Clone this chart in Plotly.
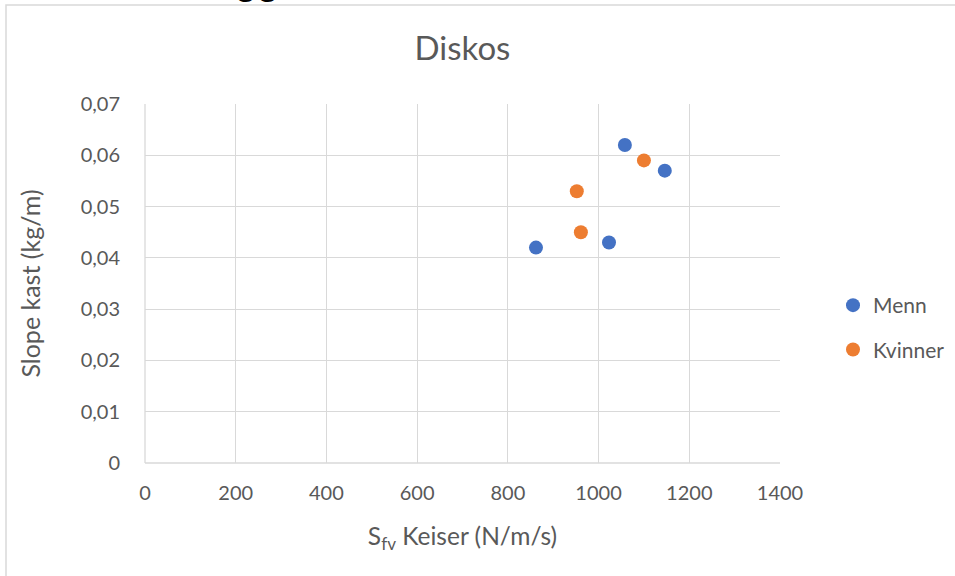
import plotly.graph_objects as go

# Data
menn_x = [862, 1058, 1146, 1023]
menn_y = [0.042, 0.062, 0.057, 0.043]
kvinner_x = [1100, 952, 961]
kvinner_y = [0.059, 0.053, 0.045]

x_ticks = [0, 200, 400, 600, 800, 1000, 1200, 1400]
y_ticks = [0, 0.01, 0.02, 0.03, 0.04, 0.05, 0.06, 0.07]
y_ticklabels = ["0", "0,01", "0,02", "0,03", "0,04", "0,05", "0,06", "0,07"]

FONT = "Lato, Open Sans, sans-serif"
GRAY = "#595959"

fig = go.Figure()
fig.add_trace(go.Scatter(x=menn_x, y=menn_y, mode="markers", name="Menn",
                         legendgroup="a",
                         marker=dict(color="#4472C4", size=14)))
fig.add_trace(go.Scatter(x=kvinner_x, y=kvinner_y, mode="markers", name="Kvinner",
                         legendgroup="b",
                         marker=dict(color="#ED7D31", size=14)))

W, H = 955, 576
L, R, T, B = 145, 175, 104, 113
pw = W - L - R
ph = H - T - B

def px2x(p):
    return (p - L) / pw

def py2y(p):
    return (H - B - p) / ph

fig.update_layout(
    width=W, height=H,
    margin=dict(l=L, r=R, t=T, b=B, pad=0, autoexpand=False),
    paper_bgcolor="white", plot_bgcolor="white",
    separators=", ",
    font=dict(family=FONT, color=GRAY, size=20),
    title=dict(text="Diskos", x=0.5, xanchor="center", xref="paper",
               y=1 - 48 / H, yanchor="middle", yref="container",
               font=dict(size=33, color=GRAY, family=FONT)),
    xaxis=dict(range=[0, 1400], tickvals=x_ticks, ticktext=[str(v) for v in x_ticks],
               showgrid=True, gridcolor="#D9D9D9", gridwidth=1.3,
               zeroline=False, showline=False, ticks="",
               tickfont=dict(size=20, color=GRAY),
               ticklabelstandoff=16,
               title=dict(text="S<sub>fv</sub> Keiser (N/m/s)", standoff=24,
                          font=dict(size=24.5, color=GRAY))),
    yaxis=dict(range=[0, 0.07], tickvals=y_ticks, ticktext=y_ticklabels,
               showgrid=True, gridcolor="#D9D9D9", gridwidth=1.3,
               zeroline=False, showline=False, ticks="",
               tickfont=dict(size=20, color=GRAY),
               ticklabelstandoff=24,
               title=dict(text="Slope kast (kg/m)", standoff=32,
                          font=dict(size=25, color=GRAY))),
    legend=dict(xref="container", yref="container",
                x=833 / W, y=1 - 285 / H, xanchor="left", yanchor="top",
                font=dict(size=21, color=GRAY), tracegroupgap=14,
                traceorder="grouped", itemwidth=30, bgcolor="rgba(0,0,0,0)"),
    showlegend=True,
)

# plot area frame lines (gridline at x=0 and bottom)
fig.add_shape(type="line", xref="paper", yref="paper", x0=0, x1=1, y0=0, y1=0,
              line=dict(color="#D9D9D9", width=1.3))
fig.add_shape(type="line", xref="paper", yref="paper", x0=0, x1=0, y0=0, y1=1,
              line=dict(color="#D9D9D9", width=1.3))

# outer chart border (partially visible)
fig.add_shape(type="rect", xref="paper", yref="paper",
              x0=px2x(6), x1=px2x(1000), y0=py2y(700), y1=py2y(5),
              line=dict(color="#D9D9D9", width=1.5), layer="below")

# cut-off text fragment at the very top
fig.add_annotation(text="<b>gg</b>", xref="paper", yref="paper",
                   x=px2x(257), y=py2y(4), xanchor="center", yanchor="bottom",
                   showarrow=False, font=dict(size=36, color="black",
                                              family="Liberation Sans, Arial, sans-serif"))

fig.write_html("out.html", config={"displayModeBar": False},
               post_script="document.body.style.margin='0';")
